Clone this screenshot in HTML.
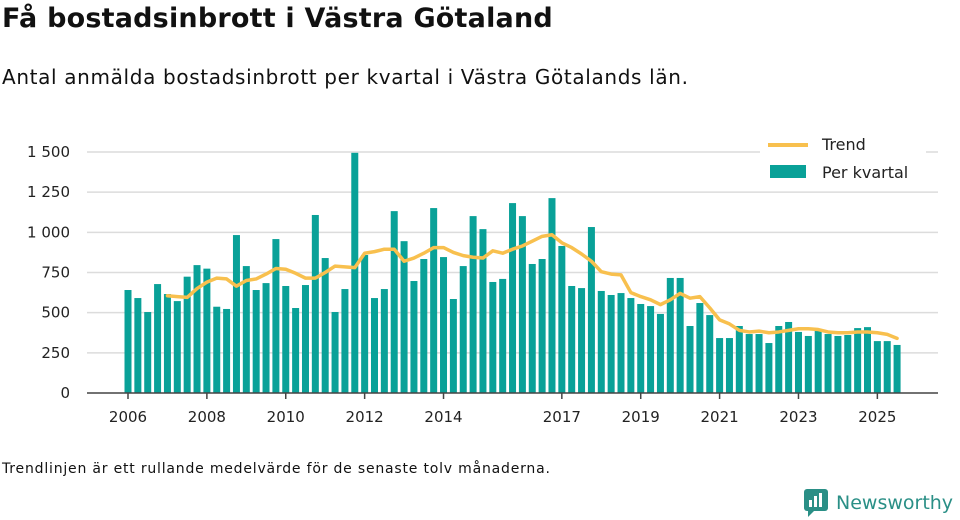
<!DOCTYPE html>
<html><head><meta charset="utf-8"><style>
body{margin:0;width:960px;height:520px;background:#fff;font-family:"DejaVu Sans",sans-serif;overflow:hidden;position:relative;color:#111}
#title{position:absolute;left:2px;top:3px;font-size:27px;font-weight:bold;margin:0;letter-spacing:0.2px}
#sub{position:absolute;left:2px;top:65px;font-size:20px;letter-spacing:0.65px}
#note{position:absolute;left:2px;top:461px;font-size:14px;letter-spacing:0.8px}
#logo{position:absolute;left:804px;top:489px;display:flex;align-items:center;color:#2a8f86;font-size:19px}
</style></head><body>
<h1 id="title">Få bostadsinbrott i Västra Götaland</h1>
<div id="sub">Antal anmälda bostadsinbrott per kvartal i Västra Götalands län.</div>
<svg id="chart" width="960" height="520" style="position:absolute;left:0;top:0;font-family:'DejaVu Sans',sans-serif"></svg>
<div id="note">Trendlinjen är ett rullande medelvärde för de senaste tolv månaderna.</div>
<div id="logo"><svg width="26" height="28" viewBox="0 0 26 28"><rect x="0" y="0" width="24" height="22" rx="3" fill="#2a8f86"/><polygon points="4,22 10,22 4,28" fill="#2a8f86"/><rect x="5" y="11" width="3" height="7" fill="#fff"/><rect x="10" y="7" width="3" height="11" fill="#fff"/><rect x="15" y="4" width="3" height="14" fill="#fff"/></svg><span style="margin-left:6px">Newsworthy</span></div>
<script>
const startYear = 2006;
const values = [641,591,504,678,616,572,724,796,774,537,523,983,790,641,684,958,666,529,672,1108,840,504,647,1495,859,591,647,1132,945,697,834,1151,846,585,790,1101,1020,691,710,1182,1101,803,834,1213,915,666,653,1033,635,610,622,591,554,541,492,716,716,417,560,485,342,342,417,367,367,311,417,442,380,355,386,367,355,361,404,410,323,323,299];
const trendStart = 4;
const trend = [605,600,595,650,690,715,710,665,700,710,740,775,770,745,715,715,750,790,785,780,870,880,895,895,820,840,870,905,905,875,855,845,840,885,870,895,915,945,975,985,935,905,865,820,755,740,735,625,600,580,550,580,620,590,600,530,455,430,390,380,385,375,380,390,400,400,395,380,375,375,380,380,375,365,340];
const yTicks = [0,250,500,750,1000,1250,1500];
const yLabels = ["0","250","500","750","1 000","1 250","1 500"];
const xTickYears = [2006,2008,2010,2012,2014,2017,2019,2021,2023,2025];

const NS="http://www.w3.org/2000/svg";
const svg=document.getElementById('chart');
const y0=393, y1=152, yMax=1500;
const yS=v=>y0-(v/yMax)*(y0-y1);
const x0=128, qW=9.86;
const xS=i=>x0+i*qW;
const xYear=yr=>x0+(yr-startYear)*4*qW;
function mk(t,a){const e=document.createElementNS(NS,t);for(const k in a)e.setAttribute(k,a[k]);svg.appendChild(e);return e;}
yTicks.forEach((v,i)=>{
  if(v>0){const g=mk('line',{x1:87,x2:938,y1:yS(v),y2:yS(v),stroke:'#dcdcdc','stroke-width':1.5});
  
  }
  const t=mk('text',{x:70,y:yS(v)+5,'text-anchor':'end','font-size':15,fill:'#222'});
  t.textContent=yLabels[i];
  
  
});
values.forEach((v,i)=>{
  const r=mk('rect',{x:xS(i)-3.5,y:yS(v),width:7,height:y0-yS(v),fill:'#09a198'});
  
  
});
const ax=mk('line',{x1:87,x2:938,y1:y0,y2:y0,stroke:'#444','stroke-width':1.5});


xTickYears.forEach(yr=>{
  const x=xYear(yr);
  const tk=mk('line',{x1:x,x2:x,y1:y0,y2:y0+6,stroke:'#444','stroke-width':1.5});
  
  
  const t=mk('text',{x:x,y:y0+29,'text-anchor':'middle','font-size':15,fill:'#222'});
  t.textContent=yr;
  
  
});
const pts=trend.map((v,i)=>xS(i+trendStart)+','+yS(v)).join(' ');
const pl=mk('polyline',{points:pts,fill:'none',stroke:'#f8c04e','stroke-width':3.5,'stroke-linejoin':'round','stroke-linecap':'round'});


const lb=mk('rect',{x:760,y:132,width:166,height:54,fill:'#fff'});


const l1=mk('line',{x1:768,x2:808,y1:145,y2:145,stroke:'#f8c04e','stroke-width':4});


const t1=mk('text',{x:822,y:150,'font-size':16,fill:'#222'});t1.textContent='Trend';


const r2=mk('rect',{x:770,y:165,width:36,height:13,fill:'#09a198'});


const t2=mk('text',{x:822,y:178,'font-size':16,fill:'#222'});t2.textContent='Per kvartal';


</script>
</body></html>
